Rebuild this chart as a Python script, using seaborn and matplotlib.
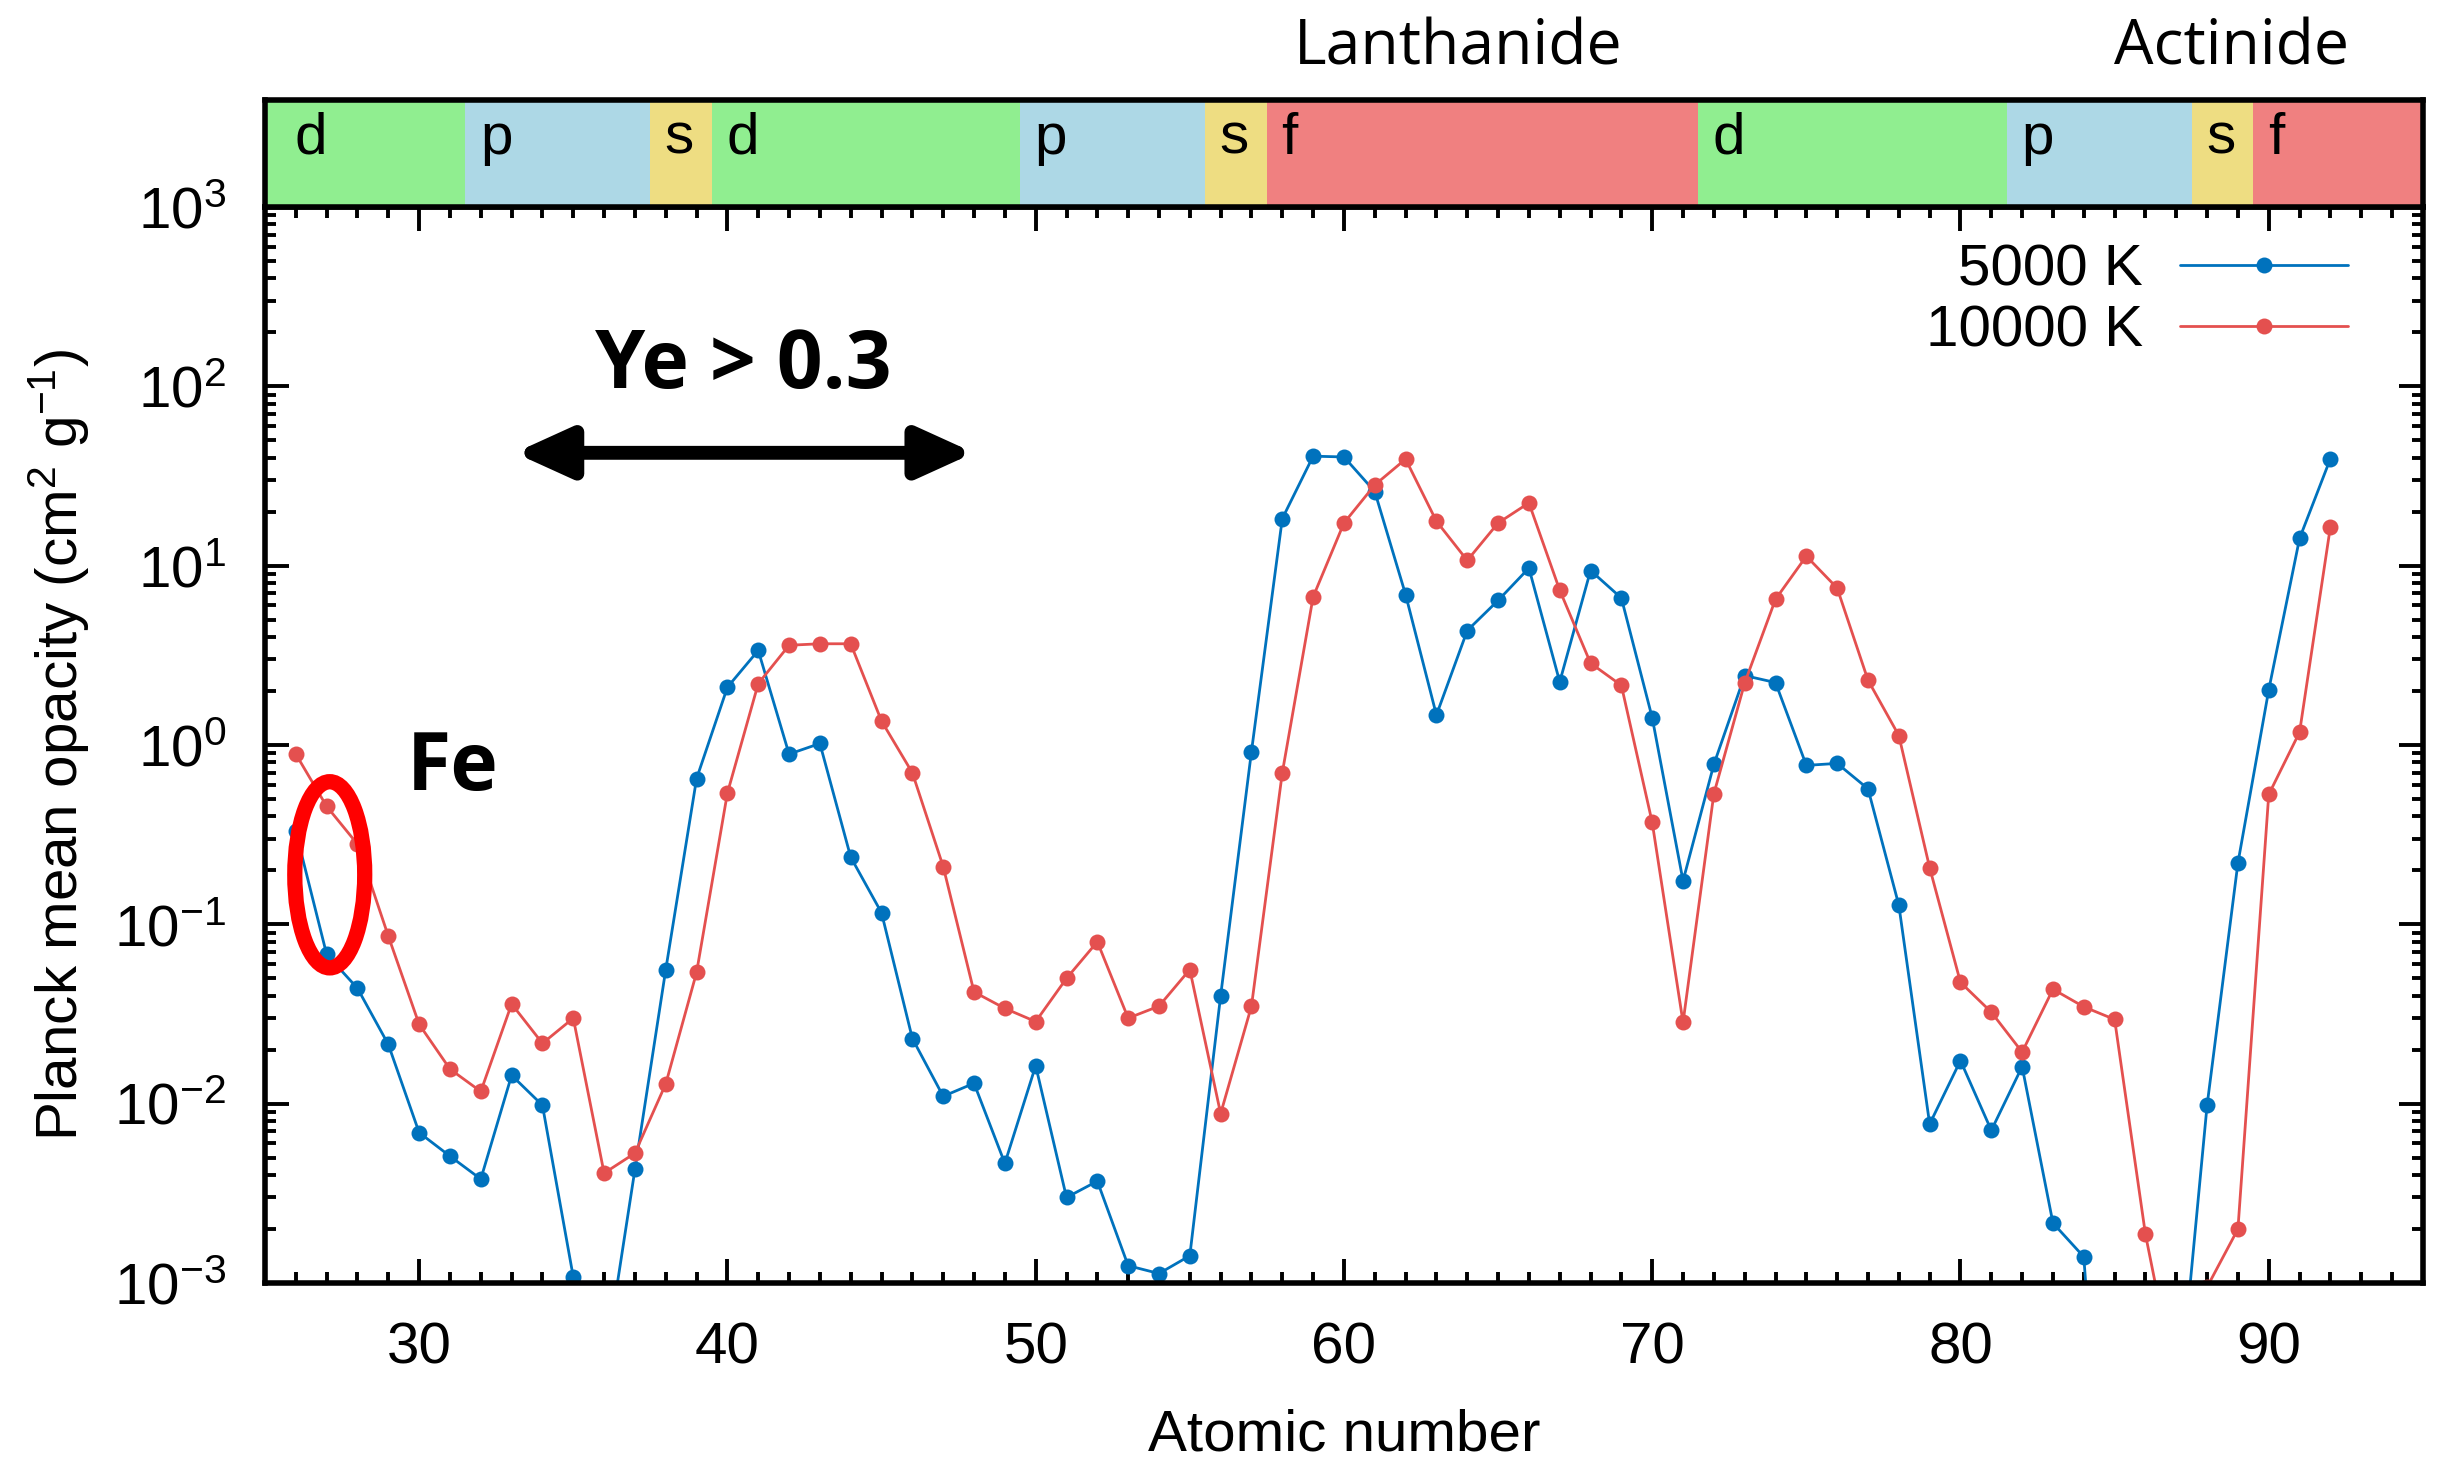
import numpy as np
import pandas as pd
import seaborn as sns
import matplotlib.pyplot as plt
from matplotlib.patches import Ellipse
from matplotlib.ticker import MultipleLocator, LogLocator, NullFormatter

# opacity values (atomic number 26..92)
atomic_number = list(range(26, 93))
opacity_5000 = [0.33, 0.068, 0.044, 0.0214, 0.0069, 0.0051, 0.0038, 0.0144, 0.0098, 0.00108,
                0.00033, 0.0043, 0.056, 0.65, 2.1, 3.37, 0.89, 1.02, 0.237, 0.116,
                0.0231, 0.011, 0.013, 0.00465, 0.0163, 0.0030, 0.0037, 0.00125, 0.00113, 0.00142,
                0.040, 0.92, 18.3, 40.8, 40.4, 25.9, 6.9, 1.47, 4.35, 6.4,
                9.7, 2.25, 9.4, 6.6, 1.42, 0.175, 0.78, 2.44, 2.23, 0.77,
                0.79, 0.57, 0.128, 0.0077, 0.0174, 0.0071, 0.0161, 0.00216, 0.0014, 6e-6,
                1e-5, 1.5e-4, 0.0098, 0.22, 2.03, 14.2, 39.5]
opacity_10000 = [0.89, 0.455, 0.28, 0.086, 0.0277, 0.0156, 0.0117, 0.036, 0.0217, 0.030,
                 0.0041, 0.0053, 0.0129, 0.054, 0.54, 2.2, 3.6, 3.67, 3.67, 1.36,
                 0.70, 0.21, 0.042, 0.034, 0.0287, 0.050, 0.080, 0.030, 0.035, 0.056,
                 0.0088, 0.035, 0.70, 6.7, 17.3, 28.2, 39.3, 17.7, 10.7, 17.3,
                 22.4, 7.3, 2.86, 2.15, 0.37, 0.0284, 0.535, 2.22, 6.5, 11.3,
                 7.5, 2.3, 1.13, 0.207, 0.0475, 0.0324, 0.0194, 0.0435, 0.0347, 0.0295,
                 0.00187, 0.00026, 0.00095, 0.0020, 0.53, 1.18, 16.5]

series_labels = ['5000 K', '10000 K']
series_colors = ['#0072BD', '#E4504F']

# periodic-table blocks shown in the strip above the plot
block_names = ['d', 'p', 's', 'd', 'p', 's', 'f', 'd', 'p', 's', 'f']
block_edges = [21.5, 31.5, 37.5, 39.5, 49.5, 55.5, 57.5, 71.5, 81.5, 87.5, 89.5, 103.5]
block_colors = {'s': '#EEDD82', 'p': '#ADD8E6', 'd': '#90EE90', 'f': '#F08080'}
series_names = ['Lanthanide', 'Actinide']
series_name_x = [63.7, 88.8]

sns.set_style("ticks")
plt.rcParams['font.family'] = ['Liberation Sans', 'DejaVu Sans']
plt.rcParams['mathtext.fontset'] = 'custom'
plt.rcParams['mathtext.rm'] = 'Liberation Sans'
plt.rcParams['mathtext.it'] = 'Liberation Sans:italic'
plt.rcParams['mathtext.bf'] = 'Liberation Sans:bold'
for k in ['text.color', 'axes.labelcolor', 'xtick.color', 'ytick.color', 'axes.edgecolor']:
    plt.rcParams[k] = 'black'

fig = plt.figure(figsize=(24.38, 14.62), dpi=100)
ax = fig.add_axes([0.1087, 0.1224, 0.8851, 0.7360])
band = fig.add_axes([0.1087, 0.8584, 0.8851, 0.0732])

df = pd.DataFrame({'Z': atomic_number * 2,
                   'kappa': opacity_5000 + opacity_10000,
                   'T': [series_labels[0]] * len(atomic_number) + [series_labels[1]] * len(atomic_number)})

for lab, col in zip(series_labels, series_colors):
    sns.lineplot(data=df[df['T'] == lab], x='Z', y='kappa', color=col, marker='o',
                 markersize=11.5, markeredgewidth=0, linewidth=2.0, errorbar=None,
                 label=lab, legend=False, ax=ax)

ax.set_yscale('log')
ax.set_xlim(25, 95)
ax.set_ylim(1e-3, 1e3)
ax.xaxis.set_major_locator(MultipleLocator(10))
ax.xaxis.set_minor_locator(MultipleLocator(1))
ax.yaxis.set_major_locator(LogLocator(base=10, numticks=10))
ax.yaxis.set_minor_locator(LogLocator(base=10, subs=np.arange(2, 10), numticks=100))
ax.yaxis.set_minor_formatter(NullFormatter())
ax.tick_params(which='both', direction='in', top=True, right=True, width=2.8)
ax.tick_params(which='major', length=17, pad=28, labelsize=42)
ax.tick_params(which='minor', length=8)
for s in ax.spines.values():
    s.set_linewidth(4)

ax.set_xlabel('Atomic number', fontsize=42)
ax.set_ylabel('Planck mean opacity (cm$^{2}$ g$^{-1}$)', fontsize=42)
ax.xaxis.set_label_coords(0.5, -0.117)
ax.yaxis.set_label_coords(-0.08, 0.5)

handles = ax.get_lines()[:2]
ax.legend(handles, series_labels, loc='upper right', bbox_to_anchor=(0.9652, 0.966),
          frameon=False, markerfirst=False, handlelength=2.88, handletextpad=0.63,
          labelspacing=0.11, borderpad=0, borderaxespad=0, fontsize=42, numpoints=1)

# annotations
ax.annotate('', xy=(33.1, 42.6), xytext=(48.0, 42.6),
            arrowprops=dict(arrowstyle='<|-|>,head_length=3.3,head_width=1.5',
                            mutation_scale=10, lw=10, color='black',
                            shrinkA=0, shrinkB=0))
ax.text(40.5, 97.5, 'Ye > 0.3', ha='center', va='baseline', fontsize=58,
        fontweight='bold', family=['Open Sans', 'DejaVu Sans'])
ax.text(31.1, 0.563, 'Fe', ha='center', va='baseline', fontsize=58,
        fontweight='bold', family=['Open Sans', 'DejaVu Sans'])
cx, cy = ax.transAxes.inverted().transform(ax.transData.transform((27.1, 0.189)))
ax.add_patch(Ellipse((cx, cy), width=0.0324, height=0.173, transform=ax.transAxes,
                     fill=False, edgecolor='#FF0000', linewidth=11, clip_on=False, zorder=5))

# block strip
band.set_xlim(25, 95)
band.set_ylim(0, 1)
for i, name in enumerate(block_names):
    band.axvspan(block_edges[i], block_edges[i + 1], color=block_colors[name], lw=0)
    band.text(max(block_edges[i], 25.5) + 0.47, 0.5, name, ha='left', va='baseline', fontsize=42)
band.set_xticks([])
band.set_yticks([])
for s in band.spines.values():
    s.set_linewidth(4)
for name, x in zip(series_names, series_name_x):
    band.text(x, 1.336, name, ha='center', va='baseline', fontsize=45,
              family=['Open Sans', 'DejaVu Sans'], clip_on=False)

fig.savefig('out.png', dpi=100)
